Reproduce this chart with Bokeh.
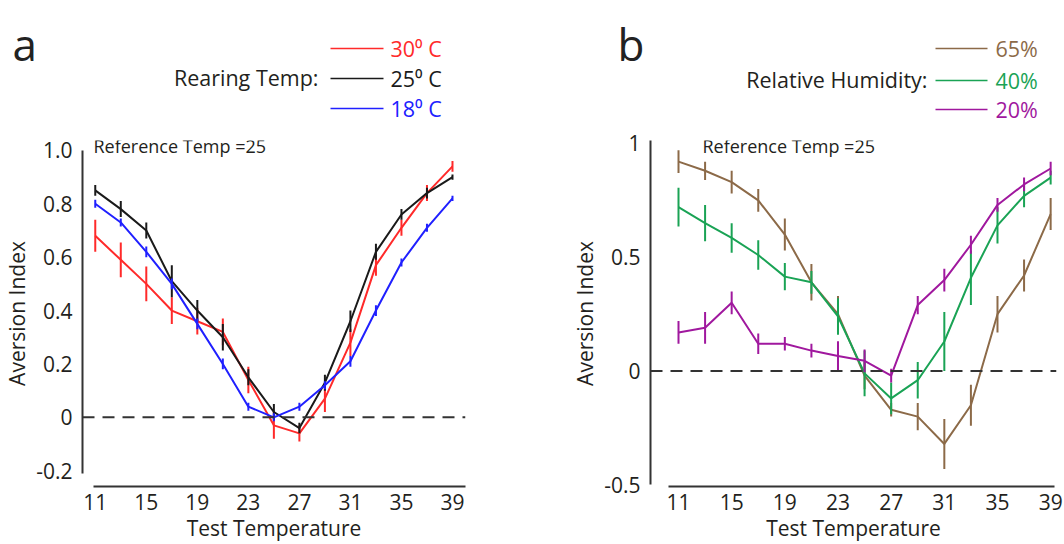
from bokeh.plotting import figure
from bokeh.layouts import column, row
from bokeh.models import Range1d, FixedTicker, Span, Label, ColumnDataSource
from bokeh.core.properties import value
from bokeh.embed import file_html
from bokeh.resources import INLINE

# ---------------- data ----------------
temps = [11, 13, 15, 17, 19, 21, 23, 25, 27, 29, 31, 33, 35, 37, 39]
x_ticks = [11, 15, 19, 23, 27, 31, 35, 39]

# panel a: rearing temperature
rear_names = ["30\u2070 C", "25\u2070 C", "18\u2070 C"]
rear_colors = ["#ff2a2a", "#1a1a1a", "#2020ff"]
rear_30 = [0.68, 0.59, 0.50, 0.40, 0.36, 0.32, 0.14, -0.03, -0.06, 0.07, 0.28, 0.57, 0.71, 0.84, 0.94]
rear_30_err = [0.06, 0.065, 0.065, 0.05, 0.05, 0.05, 0.05, 0.05, 0.03, 0.05, 0.05, 0.04, 0.03, 0.03, 0.02]
rear_25 = [0.85, 0.78, 0.70, 0.51, 0.40, 0.30, 0.15, 0.02, -0.04, 0.13, 0.36, 0.62, 0.76, 0.84, 0.90]
rear_25_err = [0.02, 0.03, 0.03, 0.06, 0.04, 0.05, 0.03, 0.03, 0.02, 0.03, 0.04, 0.03, 0.02, 0.02, 0.01]
rear_18 = [0.80, 0.73, 0.62, 0.50, 0.35, 0.20, 0.04, 0.00, 0.04, 0.12, 0.21, 0.40, 0.58, 0.71, 0.82]
rear_18_err = [0.015, 0.015, 0.02, 0.02, 0.02, 0.02, 0.015, 0.015, 0.015, 0.015, 0.02, 0.02, 0.015, 0.015, 0.01]
a_y_ticks = [-0.2, 0, 0.2, 0.4, 0.6, 0.8, 1.0]

# panel b: relative humidity
hum_names = ["65%", "40%", "20%"]
hum_colors = ["#8c6a48", "#1aa355", "#a0189e"]
hum_65 = [0.92, 0.88, 0.83, 0.75, 0.60, 0.39, 0.25, -0.02, -0.17, -0.20, -0.32, -0.15, 0.25, 0.42, 0.69]
hum_65_err = [0.05, 0.04, 0.05, 0.05, 0.07, 0.08, 0.08, 0.06, 0.03, 0.06, 0.11, 0.09, 0.08, 0.07, 0.07]
hum_40 = [0.72, 0.65, 0.585, 0.51, 0.415, 0.39, 0.24, -0.01, -0.12, -0.04, 0.13, 0.41, 0.64, 0.77, 0.85]
hum_40_err = [0.085, 0.08, 0.065, 0.065, 0.06, 0.05, 0.08, 0.10, 0.07, 0.08, 0.13, 0.12, 0.08, 0.05, 0.03]
hum_20 = [0.17, 0.19, 0.30, 0.12, 0.12, 0.09, 0.066, 0.045, -0.02, 0.29, 0.40, 0.555, 0.73, 0.82, 0.89]
hum_20_err = [0.05, 0.07, 0.05, 0.045, 0.03, 0.03, 0.065, 0.05, 0.03, 0.04, 0.05, 0.04, 0.03, 0.03, 0.03]
b_y_ticks = [-0.5, 0, 0.5, 1]

FONT = "Open Sans"
TXT = "#231f20"


def style_panel(p, yticks, overrides, xbounds, ybounds):
    p.grid.visible = False
    p.outline_line_color = None
    p.background_fill_color = None
    p.border_fill_color = None
    for ax in (p.xaxis[0], p.yaxis[0]):
        ax.axis_line_color = "#333333"
        ax.axis_line_width = 2
        ax.major_tick_out = 0
        ax.major_tick_in = 0
        ax.minor_tick_out = 0
        ax.minor_tick_in = 0
        ax.major_label_text_font = FONT
        ax.major_label_text_font_size = "21px"
        ax.major_label_text_color = TXT
        ax.axis_label_text_font = FONT
        ax.axis_label_text_font_size = "21px"
        ax.axis_label_text_font_style = "normal"
        ax.axis_label_text_color = TXT
    p.xaxis.ticker = FixedTicker(ticks=x_ticks)
    p.xaxis.bounds = xbounds
    p.xaxis.major_label_standoff = 7
    p.xaxis.axis_label_standoff = 1
    p.xaxis.axis_label = "Test Temperature"
    p.yaxis.ticker = FixedTicker(ticks=yticks)
    p.yaxis.bounds = ybounds
    p.yaxis.major_label_overrides = overrides
    p.yaxis.major_label_standoff = 10
    p.yaxis.axis_label_standoff = 2
    p.yaxis.axis_label = "Aversion Index"
    p.add_layout(Span(location=0, dimension="width", line_color="#333333",
                      line_dash="12 8", line_width=2))


def add_series(p, ys, errs, color):
    src = ColumnDataSource(dict(
        x=temps, y=ys,
        lo=[v - e for v, e in zip(ys, errs)],
        hi=[v + e for v, e in zip(ys, errs)],
    ))
    p.line("x", "y", source=src, line_color=color, line_width=2)
    p.segment(x0="x", y0="lo", x1="x", y1="hi", source=src,
              line_color=color, line_width=2)


# ---------------- header (panel letters + legends) ----------------
h = figure(width=1064, height=128, x_range=Range1d(0, 1064), y_range=Range1d(128, 0),
           x_axis_type=None, y_axis_type=None, toolbar_location=None,
           output_backend="svg", min_border=0)
h.grid.visible = False
h.outline_line_color = None

h.text(x=[12, 617], y=[43, 43], text=["a", "b"], text_font=value(FONT),
       text_font_size="44px", text_color="#222222", text_baseline="alphabetic")

leg_y = [48, 78, 108]
h.text(x=[318], y=[77], text=["Rearing Temp:"], text_font=value(FONT),
       text_font_size="21.5px", text_color=TXT, text_align="right", text_baseline="middle")
h.segment(x0=[330] * 3, x1=[383] * 3, y0=leg_y, y1=leg_y, line_color=rear_colors, line_width=1.5)
h.text(x=[390] * 3, y=leg_y, text=rear_names, text_font=value(FONT), text_font_size="21.5px",
       text_color=rear_colors, text_align="left", text_baseline="middle")

leg_yb = [48, 80, 109]
h.text(x=[927], y=[79], text=["Relative Humidity:"], text_font=value(FONT),
       text_font_size="21.5px", text_color=TXT, text_align="right", text_baseline="middle")
h.segment(x0=[935] * 3, x1=[987] * 3, y0=leg_yb, y1=leg_yb, line_color=hum_colors, line_width=1.5)
h.text(x=[995] * 3, y=leg_yb, text=hum_names, text_font=value(FONT), text_font_size="21.5px",
       text_color=hum_colors, text_align="left", text_baseline="middle")

# ---------------- panel a ----------------
pa = figure(width=532, height=416, x_range=Range1d(10.0, 40.02), y_range=Range1d(-0.259, 1.037),
            toolbar_location=None, output_backend="svg",
            min_border_left=82, min_border_right=67, min_border_top=12, min_border_bottom=56)
style_panel(pa, a_y_ticks, {0: "0", -0.2: "-0.2", 1.0: "1.0"}, (10.85, 40.02), (-0.21, 1.0))
add_series(pa, rear_30, rear_30_err, rear_colors[0])
add_series(pa, rear_25, rear_25_err, rear_colors[1])
add_series(pa, rear_18, rear_18_err, rear_colors[2])
pa.add_layout(Label(x=10.86, y=1.017, text="Reference Temp =25", text_font=FONT,
                    text_font_size="18px", text_color=TXT, text_baseline="middle"))

# ---------------- panel b ----------------
pb = figure(width=532, height=416, x_range=Range1d(8.893, 39.44), y_range=Range1d(-0.507, 1.013),
            toolbar_location=None, output_backend="svg",
            min_border_left=118, min_border_right=8, min_border_top=12, min_border_bottom=56)
style_panel(pb, b_y_ticks, {0: "0", 1: "1", -0.5: "-0.5", 0.5: "0.5"}, (10.25, 39.3), (-0.5, 1.03))
add_series(pb, hum_65, hum_65_err, hum_colors[0])
add_series(pb, hum_40, hum_40_err, hum_colors[1])
add_series(pb, hum_20, hum_20_err, hum_colors[2])
pb.add_layout(Label(x=12.8, y=0.99, text="Reference Temp =25", text_font=FONT,
                    text_font_size="18px", text_color=TXT, text_baseline="middle"))

layout = column(h, row(pa, pb))
open("out.html", "w").write(file_html(layout, INLINE))
